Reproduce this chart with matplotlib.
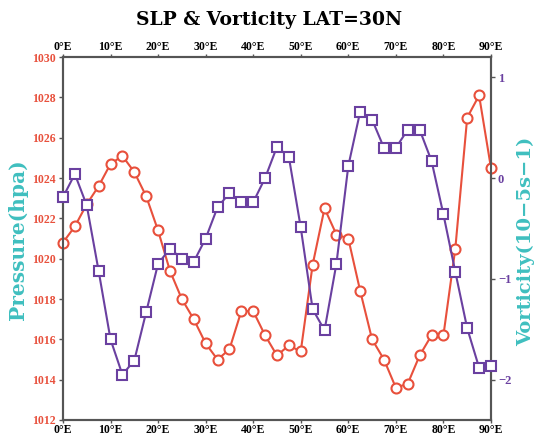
import numpy as np
import matplotlib
matplotlib.use("Agg")
import matplotlib.pyplot as plt

# longitude (deg E), every 2.5 deg
lon = np.arange(0, 90.1, 2.5)

# sea level pressure (hPa)
slp = [1020.8, 1021.6, 1022.7, 1023.6, 1024.7, 1025.1, 1024.3, 1023.1, 1021.4,
       1019.4, 1018.0, 1017.0, 1015.8, 1015.0, 1015.5, 1017.4, 1017.4, 1016.2,
       1015.2, 1015.7, 1015.4, 1019.7, 1022.5, 1021.2, 1021.0, 1018.4, 1016.0,
       1015.0, 1013.6, 1013.8, 1015.2, 1016.2, 1016.2, 1020.5, 1027.0, 1028.1,
       1024.5]

# vorticity (10^-5 s^-1)
vort = [-0.19, 0.04, -0.27, -0.92, -1.60, -1.95, -1.81, -1.33, -0.85,
        -0.70, -0.80, -0.83, -0.60, -0.29, -0.15, -0.24, -0.24, 0.0,
        0.31, 0.21, -0.49, -1.30, -1.51, -0.85, 0.12, 0.66, 0.58,
        0.30, 0.30, 0.48, 0.48, 0.17, -0.36, -0.93, -1.49, -1.88,
        -1.86]

xticks = np.arange(0, 91, 10)
xticklabels = [f"{x}°E" for x in xticks]
p_ticks = np.arange(1012, 1031, 2)
v_ticks = [-2, -1, 0, 1]

red = "#e8503c"
purple = "#6a40a0"
cyan = "#3fbfbf"
grey = "#555555"

fig = plt.figure(figsize=(5.38, 4.36), dpi=100)
ax1 = fig.add_axes([0.117, 0.0367, 0.7956, 0.8323])
ax2 = ax1.twinx()

ax1.plot(lon, slp, color=red, lw=1.5, marker="o", ms=7.2, mfc="white",
         mec=red, mew=1.5, clip_on=False, zorder=3)
ax2.plot(lon, vort, color=purple, lw=1.5, marker="s", ms=7.6, mfc="white",
         mec=purple, mew=1.5, clip_on=False, zorder=3)

ax1.set_xlim(0, 90)
ax1.set_ylim(1012, 1030)
ax2.set_ylim(-2.4, 1.2)

tick_font = dict(family="Liberation Serif", weight="bold", size=8.5)

ax1.set_xticks(xticks)
ax1.set_xticklabels(xticklabels, **tick_font)
ax1.tick_params(axis="x", top=True, labeltop=True, direction="out",
                length=2.5, width=1, color=grey, pad=0.5)
ax1.set_yticks(p_ticks)
ax1.set_yticklabels([str(p) for p in p_ticks], color=red, **tick_font)
ax1.tick_params(axis="y", direction="out", length=3, width=1, color=grey, pad=2)

ax2.set_yticks(v_ticks)
ax2.set_yticklabels(["\u22122", "\u22121", "0", "1"], color=purple,
                    family=["Liberation Serif", "DejaVu Serif"], weight="bold",
                    size=9)
ax2.tick_params(axis="y", direction="out", length=3, width=1, color=grey, pad=2)

for ax in (ax1, ax2):
    for sp in ax.spines.values():
        sp.set_color(grey)
        sp.set_linewidth(1.5)

label_font = dict(family="DejaVu Serif", weight="bold", color=cyan,
                  rotation=90, ha="center", va="center")
fig.text(18 / 538, 1 - 240 / 436, "Pressure(hpa)", size=14.5, **label_font)
fig.text(526 / 538, 1 - 241 / 436, "Vorticity(10\u22125s\u22121)", size=14,
         **label_font)

fig.text(0.5, 0.955, "SLP & Vorticity LAT=30N", ha="center", va="center",
         family="DejaVu Serif", weight="bold", size=13.5)

fig.savefig("out.png", dpi=100)
